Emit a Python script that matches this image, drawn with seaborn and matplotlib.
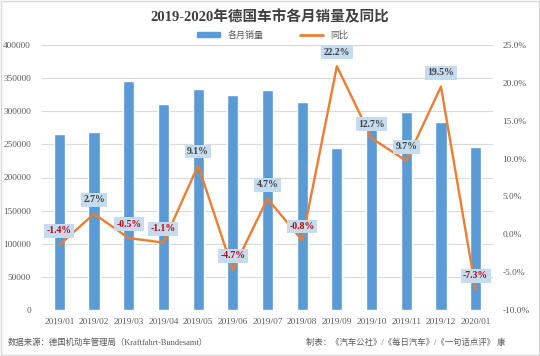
import numpy as np
import pandas as pd
import matplotlib
matplotlib.use("Agg")
import matplotlib.pyplot as plt
import seaborn as sns
from matplotlib.patches import Patch, Rectangle
from matplotlib.lines import Line2D
from matplotlib.ticker import FuncFormatter

# data
months = ["2019/01", "2019/02", "2019/03", "2019/04", "2019/05", "2019/06", "2019/07",
          "2019/08", "2019/09", "2019/10", "2019/11", "2019/12", "2020/01"]
sales = [265700, 269400, 345500, 310600, 333500, 325200, 331800,
         313500, 244400, 283400, 299100, 283400, 246300]
yoy = [-1.4, 2.7, -0.5, -1.1, 9.1, -4.7, 4.7, -0.8, 22.2, 12.7, 9.7, 19.5, -7.3]

title = "2019-2020年德国车市各月销量及同比"
bar_name = "各月销量"
line_name = "同比"
source_txt = "数据来源：德国机动车管理局（Kraftfahrt-Bundesamt）"
credit_txt = "制表：《汽车公社》/《每日汽车》/《一句话点评》 康"

bar_color = "#5B9BD5"
line_color = "#ED7D31"
grey = "#595959"
fonts = ["Liberation Serif", "Noto Sans CJK SC", "DejaVu Sans"]

sns.set_style("white")
plt.rcParams["font.family"] = fonts

df = pd.DataFrame({"month": months, "sales": sales, "yoy": yoy})
df["pos"] = np.arange(len(df))

fig = plt.figure(figsize=(5.4, 3.56), dpi=100)
ax = fig.add_axes([42 / 540, 1 - 310 / 356, 451 / 540, 265 / 356])

sns.barplot(data=df, x="month", y="sales", color=bar_color, width=0.32,
            saturation=1, ax=ax, zorder=2)
ax.set_ylim(0, 400000)
ax.set_yticks(np.arange(0, 400001, 50000))
ax.set_xlim(-0.5, len(df) - 0.5)
ax.grid(axis="y", color="#D9D9D9", linewidth=0.8, zorder=0)
ax.set_axisbelow(True)
ax.set_xlabel("")
ax.set_ylabel("")
ax.tick_params(axis="both", length=0, labelsize=6.7, colors=grey)
ax.tick_params(axis="y", pad=8)
ax.tick_params(axis="x", pad=6)
for s in ax.spines.values():
    s.set_visible(False)

ax2 = ax.twinx()
sns.lineplot(data=df, x="pos", y="yoy", color=line_color, linewidth=1.7, ax=ax2)
ax2.set_ylim(-10, 25)
ax2.set_yticks(np.arange(-10, 25.1, 5))
ax2.yaxis.set_major_formatter(FuncFormatter(lambda v, p: f"{v:.1f}%"))
ax2.set_ylabel("")
ax2.set_xlabel("")
ax2.tick_params(axis="y", length=0, labelsize=6.7, colors=grey, pad=7)
for s in ax2.spines.values():
    s.set_visible(False)

for x, v in zip(df["pos"], df["yoy"]):
    col = "#C00000" if v < 0 else "#404040"
    ax2.annotate(f"{v:.1f}%", (x, v), xytext=(0, 10), textcoords="offset points",
                 ha="center", va="center", fontsize=7, fontweight="bold", color=col,
                 family=fonts,
                 bbox=dict(boxstyle="square,pad=0.25", fc="#C5DCF0", ec="none"))

fig.text(0.5, 1 - 17 / 356, title, ha="center", va="center", fontsize=10.5,
         fontweight="bold", color="#404040", family=fonts)

handles = [Patch(color=bar_color), Line2D([0], [0], color=line_color, linewidth=2)]
fig.legend(handles, [bar_name, line_name], loc="center", bbox_to_anchor=(0.505, 1 - 35 / 356),
           ncol=2, frameon=False, fontsize=6.5, handlelength=2.6, handleheight=0.5,
           columnspacing=4, labelcolor=grey)

fig.text(8 / 540, 1 - 343 / 356, source_txt, ha="left", va="center", fontsize=6,
         color=grey, family=fonts)
fig.text(506 / 540, 1 - 343 / 356, credit_txt, ha="right", va="center", fontsize=6,
         color=grey, family=fonts)

fig.patches.append(Rectangle((0.002, 0.003), 0.996, 0.994, transform=fig.transFigure,
                             fill=False, ec="#D9D9D9", lw=1))

fig.savefig("out.png", dpi=100)
